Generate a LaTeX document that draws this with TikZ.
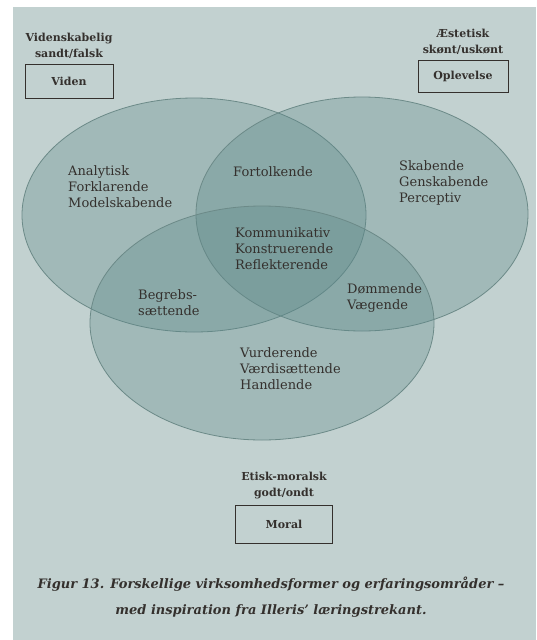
\documentclass[tikz,border=0pt]{standalone}
\usepackage{fontspec}
\setmainfont{DejaVu Serif}
\usetikzlibrary{shapes,positioning}
\definecolor{paper}{RGB}{194,209,208}
\definecolor{venn}{RGB}{92,136,136}
\definecolor{rim}{RGB}{108,138,136}
\definecolor{ink}{RGB}{52,48,45}
\tikzset{x=1pt, y=-1pt, % one unit is one pixel of the page, y runs down
node distance=5pt, % gap between a heading and its box
field/.style={ellipse, draw=rim, line width=0.8pt, fill=venn, fill opacity=0.32, minimum width=344pt, minimum height=234pt}, % the three areas
word/.style={align=left, text=ink, inner sep=0pt, font=\fontsize{13}{16}\selectfont}, % words inside the areas
areabox/.style={draw=ink, line width=1pt, fill=paper, text=ink, font=\bfseries\fontsize{11}{14}\selectfont}, % the three named boxes
head/.style={align=center, text=ink, inner sep=0pt, font=\bfseries\fontsize{11}{16}\selectfont}, % the heading over a box
}

\begin{document}
\begin{tikzpicture}
\fill[white] (0,0) rectangle (536,640);
\fill[paper] (13,7) rectangle (536,640);
\useasboundingbox (0,0) rectangle (536,640);

% the three areas
\node[field] (vid) at (194,215) {};
\node[field, minimum width=332pt] (opl) at (362,214) {};
\node[field] (mor) at (262,323) {};

% boxes and their headings
\node[areabox, minimum width=88pt, minimum height=34pt] (viden) at (69,81) {Viden};
\node[head, above=of viden] (vidhead) {Videnskabelig\\sandt/falsk};
\node[areabox, minimum width=90pt, minimum height=32pt] (oplevelse) at (463,76) {Oplevelse};
\node[head, above=of oplevelse] (oplhead) {Æstetisk\\skønt/uskønt};
\node[areabox, minimum width=97pt, minimum height=38pt] (moral) at (284,524) {Moral};
\node[head, above=of moral] (morhead) {Etisk-moralsk\\godt/ondt};

% words in the areas
\node[word, anchor=west] (analytisk) at (68,187) {Analytisk\\Forklarende\\Modelskabende};
\node[word] (fortolkende) at (273,172) {Fortolkende};
\node[word, anchor=west] (skabende) at (399,183) {Skabende\\Genskabende\\Perceptiv};
\node[word, anchor=west] (kommunikativ) at (235,249) {Kommunikativ\\Konstruerende\\Reflekterende};
\node[word, anchor=west] (begrebs) at (138,303) {Begrebs-\\sættende};
\node[word, anchor=west] (dommende) at (347,298) {Dømmende\\Vægende};
\node[word, anchor=west] (vurderende) at (240,369) {Vurderende\\Værdisættende\\Handlende};

% caption
\node[align=center, text=ink, font=\bfseries\itshape\fontsize{13}{26}\selectfont] (caption) at (271,597)
  {Figur 13. Forskellige virksomhedsformer og erfaringsområder –\\med inspiration fra Illeris' læringstrekant.};
\end{tikzpicture}
\end{document}
